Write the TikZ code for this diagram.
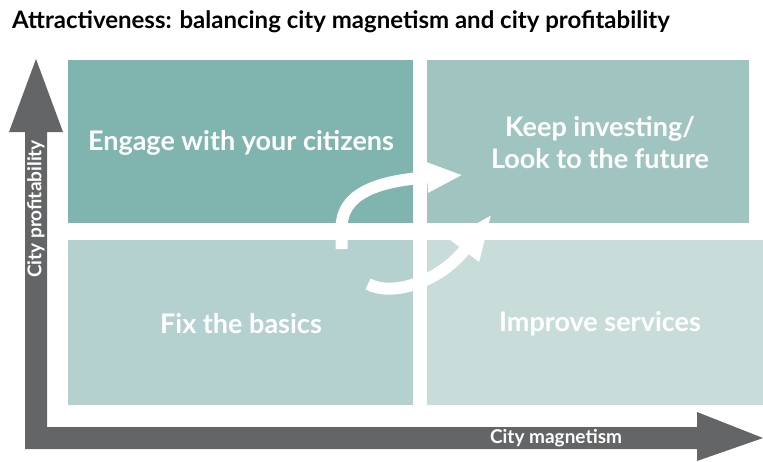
\documentclass[tikz,border=0pt]{standalone}
\usepackage{fontspec}
\setmainfont{Lato}
\usetikzlibrary{arrows.meta,positioning}

\definecolor{quadTL}{RGB}{128,181,175}
\definecolor{quadTR}{RGB}{160,197,193}
\definecolor{quadBL}{RGB}{180,209,207}
\definecolor{quadBR}{RGB}{200,221,218}
\definecolor{axisgrey}{RGB}{100,101,103}

\begin{document}
\begin{tikzpicture}[x=1pt,y=-1pt,>={Triangle[length=36pt,width=28pt]},
                    font=\bfseries]
  \tikzstyle{quad}=[draw=none,inner sep=0pt,outer sep=0pt]
  \tikzstyle{qlabel}=[text=white,align=center,font=\bfseries\fontsize{27}{32}\selectfont]
  \tikzstyle{axislabel}=[text=white,inner sep=0pt,font=\bfseries\fontsize{19}{22}\selectfont]
  \tikzstyle{turn}=[draw=white,line width=12pt]

  \useasboundingbox (0,0) rectangle (763,461);

  \node[anchor=base west,inner sep=0pt,font=\bfseries\fontsize{24}{28}\selectfont]
        (title) at (12,28) {Attractiveness: balancing city magnetism and city profitability};

  % quadrants
  \node[quad,fill=quadTL,minimum width=345pt,minimum height=163pt] (TL) at (240.5,141.5) {};
  \node[quad,fill=quadTR,minimum width=322pt,minimum height=163pt] (TR) at (588,141.5) {};
  \node[quad,fill=quadBL,minimum width=345pt,minimum height=165pt] (BL) at (240.5,322.5) {};
  \node[quad,fill=quadBR,minimum width=336pt,minimum height=165pt] (BR) at (595,322.5) {};

  \node[qlabel] (engage)  at (241,143) {Engage with your citizens};
  \node[qlabel] (keep)    at (600,143) {Keep investing/\\Look to the future};
  \node[qlabel] (basics)  at (241,324) {Fix the basics};
  \node[qlabel] (improve) at (600,324) {Improve services};

  % axes
  \fill[axisgrey] (36,59) -- (63,132) -- (47,132) -- (47,427) -- (697,427) -- (697,412)
        -- (763,438) -- (697,461) -- (697,449) -- (25,449) -- (25,132) -- (9,132) -- cycle;
  \node[axislabel,rotate=90] (profit) at (36,209) {City profitability};
  \node[axislabel] (magnet) at (556,438) {City magnetism};

  % turning arrows
  \draw[turn,->] (341.5,249) -- (341.5,228) .. controls (341.5,196) and (372,181) .. (463,175);
  \draw[turn,->,>={Triangle[length=46pt,width=34pt]}] (368,284) .. controls (392,297) and (440,282) .. (492,214);

\end{tikzpicture}
\end{document}
